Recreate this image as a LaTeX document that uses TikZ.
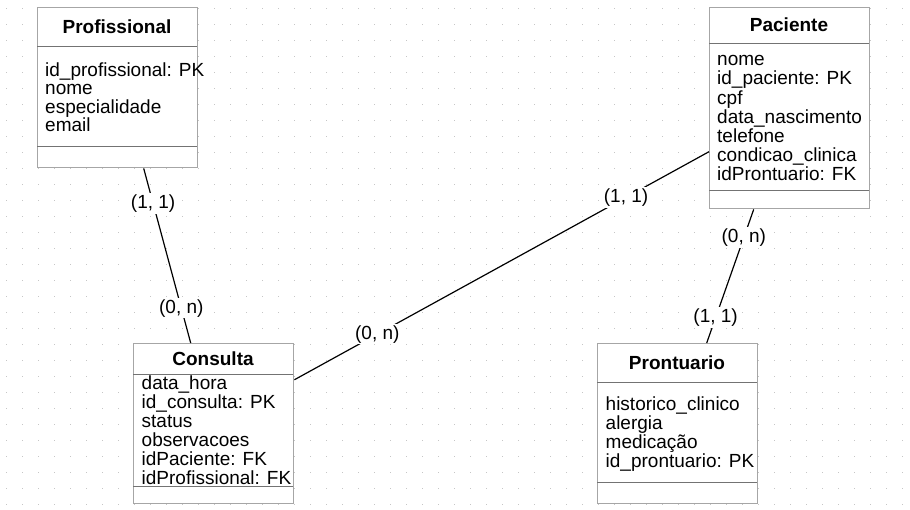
\documentclass[tikz,border=0pt]{standalone}
\usepackage{fontspec}
\setmainfont{Liberation Sans}
\tikzstyle{entity}=[rectangle,draw=gray!70,fill=white,line width=1.4pt,minimum width=160pt,inner sep=0pt,anchor=north west]
\tikzstyle{title}=[inner sep=0pt,anchor=base,font=\bfseries]
\tikzstyle{attr}=[inner sep=0pt,anchor=base west]
\tikzstyle{sepline}=[draw=black!55,line width=0.9pt]
\tikzstyle{card}=[fill=white,inner sep=1.5pt]
\tikzstyle{rel}=[line width=1.2pt]

\begin{document}
\fontsize{19pt}{19pt}\selectfont
\begin{tikzpicture}[x=1pt,y=-1pt]
\useasboundingbox (0,0) rectangle (910,509);

% dotted grid
\foreach \i in {0,...,56}
  \foreach \j in {0,...,31}
    \fill[gray!45] (5.5+16*\i, 7.5+16*\j) rectangle ++(1.1,1.1);

\node[entity,minimum height=160pt] (prof) at (37,7) {};
\node[entity,minimum height=201pt] (pac) at (709,7) {};
\node[entity,minimum height=159.5pt] (cons) at (133,343) {};
\node[entity,minimum height=159.5pt] (pront) at (597,343) {};

\draw[sepline] (37,46.7) -- (197,46.7);
\draw[sepline] (37,146.7) -- (197,146.7);
\draw[sepline] (709,43.3) -- (869,43.3);
\draw[sepline] (709,190) -- (869,190);
\draw[sepline] (133,374) -- (293,374);
\draw[sepline] (133,486) -- (293,486);
\draw[sepline] (597,382.7) -- (757,382.7);
\draw[sepline] (597,482.7) -- (757,482.7);

\node[title] (prof-t) at (117,33.3) {Profissional};
\node[attr] (prof-a1) at (45,76) {id\_profissional: PK};
\node[attr] (prof-a2) at (45,94.6) {nome};
\node[attr] (prof-a3) at (45,113.2) {especialidade};
\node[attr] (prof-a4) at (45,131.8) {email};

\node[title] (pac-t) at (789,31.5) {Paciente};
\node[attr] (pac-a1) at (717,65.7) {nome};
\node[attr] (pac-a2) at (717,84.9) {id\_paciente: PK};
\node[attr] (pac-a3) at (717,104.1) {cpf};
\node[attr] (pac-a4) at (717,123.3) {data\_nascimento};
\node[attr] (pac-a5) at (717,142.5) {telefone};
\node[attr] (pac-a6) at (717,161.7) {condicao\_clinica};
\node[attr] (pac-a7) at (717,180.9) {idProntuario: FK};

\node[title] (cons-t) at (213,365) {Consulta};
\node[attr] (cons-a1) at (141.5,389.3) {data\_hora};
\node[attr] (cons-a2) at (141.5,408.4) {id\_consulta: PK};
\node[attr] (cons-a3) at (141.5,427.5) {status};
\node[attr] (cons-a4) at (141.5,446.6) {observacoes};
\node[attr] (cons-a5) at (141.5,465.7) {idPaciente: FK};
\node[attr] (cons-a6) at (141.5,484.8) {idProfissional: FK};

\node[title] (pront-t) at (677,369) {Prontuario};
\node[attr] (pront-a1) at (605.5,410.7) {historico\_clinico};
\node[attr] (pront-a2) at (605.5,429.5) {alergia};
\node[attr] (pront-a3) at (605.5,448.3) {medicação};
\node[attr] (pront-a4) at (605.5,467.3) {id\_prontuario: PK};

\draw[rel] ([xshift=26pt]prof.south) -- ([xshift=-23pt]cons.north)
  node[card,pos=0.2] (prof-c) {(1, 1)}
  node[card,pos=0.8] (cons-c1) {(0, n)};
\draw[rel] ([yshift=-43.5pt]pac.west) -- ([yshift=43.7pt]cons.east)
  node[card,pos=0.2] (pac-c1) {(1, 1)}
  node[card,pos=0.8] (cons-c2) {(0, n)};
\draw[rel] ([xshift=-36pt]pac.south) -- ([xshift=29pt]pront.north)
  node[card,pos=0.21] (pac-c2) {(0, n)}
  node[card,pos=0.81] (pront-c) {(1, 1)};

\end{tikzpicture}
\end{document}
